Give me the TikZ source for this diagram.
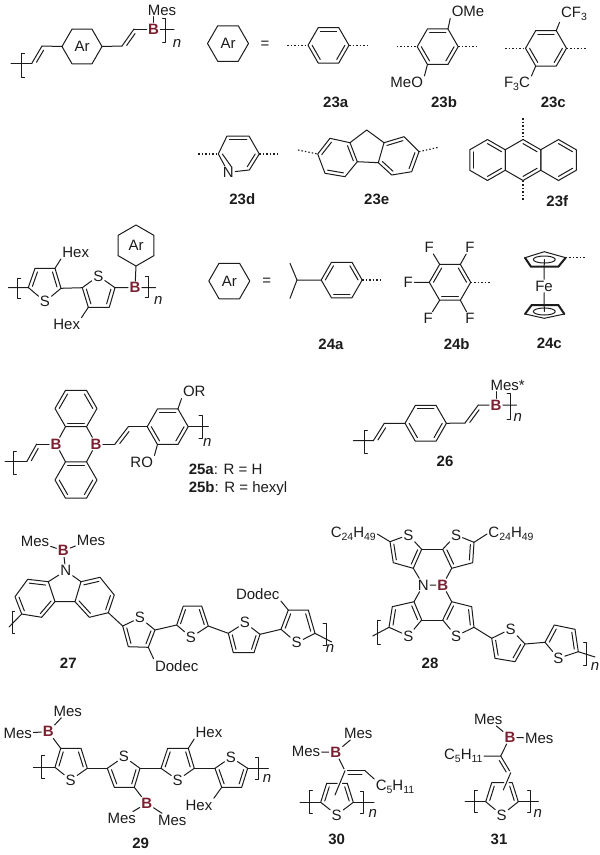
\documentclass[tikz,border=0pt]{standalone}
\usepackage{fontspec}
\setmainfont{Liberation Sans}
\usetikzlibrary{calc}

\definecolor{boronred}{HTML}{7A2030}
\definecolor{inkblack}{HTML}{1C1C1C}
\newcommand{\chemfont}{\fontsize{15}{17}\selectfont}
\newcommand{\sbs}[1]{\raisebox{-3pt}{\fontsize{10.5}{12}\selectfont #1}}

\tikzset{
    atom/.style={inner sep=1pt,font=\chemfont},
    boron/.style={inner sep=1pt,font=\chemfont\bfseries,text=boronred},
    cmpd/.style={inner sep=0pt,font=\chemfont\bfseries},
    rep/.style={inner sep=0pt,font=\chemfont\itshape},
    dotbond/.style={dash pattern=on 1.5pt off 2pt,line cap=butt,line width=1.1pt},
    halo/.style={preaction={draw=white,line width=4pt}}
}

\newcommand{\hexring}[4]{
    \coordinate (#1-c) at (#2);
    \foreach \k in {0,...,5}{\coordinate (#1-\k) at ($(#1-c)+(#4+60*\k:#3)$);}
    \draw (#1-0) -- (#1-1) -- (#1-2) -- (#1-3) -- (#1-4) -- (#1-5) -- cycle;
}
\newcommand{\hexdbl}[2]{
    \foreach \k in {#2}{
        \pgfmathtruncatemacro{\kk}{mod(\k+1,6)}
        \draw ($(#1-\k)!.2!(#1-c)$) -- ($(#1-\kk)!.2!(#1-c)$);
    }
}
\newcommand{\ibond}[4][.2]{\draw ($(#2)!#1!(#4)$) -- ($(#3)!#1!(#4)$);}
\newcommand{\dblbond}[3]{
    \draw (#1) -- (#2);
    \draw ($(#1)!.15!(#2)!3.5pt!#3:(#2)$) -- ($(#2)!.15!(#1)!3.5pt!-#3:(#1)$);
}
\newcommand{\thring}[6]{
    \node[atom] (#1-s) at (#2) {S};
    \coordinate (#1-1) at (#3);
    \coordinate (#1-2) at (#4);
    \coordinate (#1-3) at (#5);
    \coordinate (#1-4) at (#6);
    \coordinate (#1-c) at (barycentric cs:#1-1=1,#1-2=1,#1-3=1,#1-4=1,#1-s=1);
    \draw (#1-s) -- (#1-1) -- (#1-2) -- (#1-3) -- (#1-4) -- (#1-s);
    \ibond[.25]{#1-1}{#1-2}{#1-c}
    \ibond[.25]{#1-3}{#1-4}{#1-c}
}
\newcommand{\brk}[4]{\draw (#1+#4,#2) -- (#1,#2) -- (#1,#3) -- (#1+#4,#3);}

\begin{document}
\begin{tikzpicture}[x=1pt,y=-1pt,line width=1pt,line join=round,line cap=round,color=inkblack]
    \useasboundingbox (0,0) rectangle (600,855);

    % 23
    \coordinate (p23a) at (11,63);
    \coordinate (p23b) at (32,63);
    \coordinate (p23c) at (42,46);
    \hexring{ar1}{82,46.5}{20}{0}
    \node[atom] (ar1t) at (ar1-c) {Ar};
    \coordinate (p23d) at (122,46);
    \coordinate (p23e) at (134,29);
    \node[boron] (b23) at (153.5,29) {B};
    \node[atom] (mes23) at (162,10) {Mes};
    \coordinate (p23f) at (174,29);
    \draw (p23a) -- (p23b);
    \dblbond{p23b}{p23c}{-90}
    \draw (p23c) -- (ar1-3) (ar1-0) -- (p23d);
    \dblbond{p23d}{p23e}{-90}
    \draw (p23e) -- (b23) -- (p23f);
    \draw (b23.north) -- (b23.north |- mes23.south);
    \brk{21.7}{53}{77}{3}
    \brk{165.7}{18}{42}{-3}
    \node[rep] (n23) at (177,43) {n};

    \hexring{ar2}{228,43.5}{20.5}{0}
    \node[atom] (ar2t) at (ar2-c) {Ar};
    \node[atom] (eq1) at (265,44.5) {=};

    \hexring{r23a}{328.5,45.3}{20.5}{0}
    \hexdbl{r23a}{0,2,4}
    \coordinate (d23a) at (287,45.3);
    \coordinate (e23a) at (369,45.3);
    \draw[dotbond] (d23a) -- (r23a-3) (r23a-0) -- (e23a);
    \node[cmpd] (l23a) at (335.7,102.3) {23a};

    \hexring{r23b}{437.7,46.7}{20.5}{0}
    \hexdbl{r23b}{0,2,4}
    \coordinate (d23b) at (396.7,46.7);
    \coordinate (e23b) at (479,46.7);
    \draw[dotbond] (d23b) -- (r23b-3) (r23b-0) -- (e23b);
    \node[atom] (ome) at (468,11.7) {OMe};
    \node[atom] (meo) at (406.7,82.7) {MeO};
    \draw (r23b-5) -- (ome.south west) (r23b-2) -- (meo.north east);
    \node[cmpd] (l23b) at (444,102.3) {23b};

    \hexring{r23c}{546,48.3}{20.5}{0}
    \hexdbl{r23c}{0,2,4}
    \coordinate (d23c) at (505,48.3);
    \coordinate (e23c) at (586.7,48.3);
    \draw[dotbond] (d23c) -- (r23c-3) (r23c-0) -- (e23c);
    \node[atom] (cf) at (574,14) {CF\sbs{3}};
    \node[atom] (fc) at (517,84.3) {F\sbs{3}C};
    \draw (r23c-5) -- (cf.south west) (r23c-2) -- (fc.north east);
    \node[cmpd] (l23c) at (553.3,102.3) {23c};

    \coordinate (py1) at (218.3,154);
    \coordinate (py2) at (227,136);
    \coordinate (py3) at (249,136);
    \coordinate (py4) at (259.3,154);
    \coordinate (py5) at (249.3,170);
    \node[atom] (pyn) at (228.3,172.3) {N};
    \coordinate (pyc) at (238.8,154);
    \draw (pyn) -- (py1) -- (py2) -- (py3) -- (py4) -- (py5) -- (pyn);
    \ibond{py2}{py3}{pyc}
    \ibond{py4}{py5}{pyc}
    \draw ($(py1)!.2!(pyc)$) -- ($(pyn)!.3!(pyc)$);
    \coordinate (d23d) at (198.3,154);
    \coordinate (e23d) at (279.3,154);
    \draw[dotbond] (d23d) -- (py1) (py4) -- (e23d);
    \node[cmpd] (l23d) at (242.3,199.3) {23d};

    \coordinate (fl0) at (366.7,130);
    \coordinate (fl1) at (350,142.7);
    \coordinate (fl2) at (384,142.7);
    \coordinate (fl3) at (357.3,161.7);
    \coordinate (fl4) at (378.3,162.7);
    \coordinate (fl5) at (345,176.7);
    \coordinate (fl6) at (325,173.3);
    \coordinate (fl7) at (317.7,154);
    \coordinate (fl8) at (330,138.3);
    \coordinate (fl9) at (391.7,175);
    \coordinate (fl10) at (411.7,171.7);
    \coordinate (fl11) at (419,151.7);
    \coordinate (fl12) at (404,136.7);
    \coordinate (flc) at (337.5,157.5);
    \coordinate (frc) at (398.5,156.5);
    \draw (fl1) -- (fl0) -- (fl2) (fl3) -- (fl4);
    \draw (fl1) -- (fl3) -- (fl5) -- (fl6) -- (fl7) -- (fl8) -- cycle;
    \draw (fl2) -- (fl4) -- (fl9) -- (fl10) -- (fl11) -- (fl12) -- cycle;
    \ibond{fl1}{fl3}{flc}
    \ibond{fl5}{fl6}{flc}
    \ibond{fl7}{fl8}{flc}
    \ibond{fl2}{fl12}{frc}
    \ibond{fl4}{fl9}{frc}
    \ibond{fl10}{fl11}{frc}
    \coordinate (d23e) at (298,150);
    \coordinate (e23e) at (438.3,147.3);
    \draw[dotbond] (d23e) -- (fl7) (fl11) -- (e23e);
    \node[cmpd] (l23e) at (376.7,199.3) {23e};

    \hexring{an1}{487.5,160}{20.5}{30}
    \hexring{an2}{523,160}{20.5}{30}
    \hexring{an3}{558.5,160}{20.5}{30}
    \hexdbl{an1}{0,2,4}
    \hexdbl{an2}{0,4}
    \hexdbl{an3}{0,4}
    \coordinate (d23f) at (523,118);
    \coordinate (e23f) at (523,200);
    \draw[dotbond] (d23f) -- (an2-4) (an2-1) -- (e23f);
    \node[cmpd] (l23f) at (557.3,200.7) {23f};

    % 24
    \coordinate (p24a) at (8.3,287.5);
    \thring{t24a}{45,301.7}{28.3,287.5}{35,268.3}{55,268.3}{61,288.3}
    \thring{t24b}{98.3,276}{115,287.7}{109.3,307.3}{88.3,307.3}{82.3,287.7}
    \node[atom] (hex24a) at (75.7,252.3) {Hex};
    \node[atom] (hex24b) at (66.7,324.3) {Hex};
    \node[boron] (b24) at (135,287.7) {B};
    \coordinate (p24b) at (155.7,287.7);
    \draw (p24a) -- (t24a-1) (t24a-4) -- (t24b-4) (t24b-1) -- (b24) -- (p24b);
    \draw (t24a-3) -- (hex24a.south west) (t24b-3) -- (hex24b.north east);
    \hexring{ar3}{136,245.5}{20.5}{30}
    \node[atom] (ar3t) at (ar3-c) {Ar};
    \draw (ar3-1) -- (b24);
    \brk{17.7}{278}{298}{3}
    \brk{148.3}{276}{297.7}{-3}
    \node[rep] (n24) at (158.3,300) {n};

    \hexring{ar4}{229.3,281}{20.5}{0}
    \node[atom] (ar4t) at (ar4-c) {Ar};
    \node[atom] (eq2) at (266.7,282) {=};

    \coordinate (ip1) at (290,263.3);
    \coordinate (ip2) at (297,280);
    \coordinate (ip3) at (290,298.3);
    \hexring{r24a}{341.7,280}{20.5}{0}
    \hexdbl{r24a}{1,3,5}
    \coordinate (e24a) at (382.3,280);
    \draw (ip1) -- (ip2) -- (ip3) (ip2) -- (r24a-3);
    \draw[dotbond] (r24a-0) -- (e24a);
    \node[cmpd] (l24a) at (331,344.3) {24a};

    \hexring{r24b}{450,282.3}{20.7}{0}
    \hexdbl{r24b}{1,3,5}
    \coordinate (e24b) at (491,282.3);
    \draw[dotbond] (r24b-0) -- (e24b);
    \node[atom] (f1) at (429.3,247.3) {F};
    \node[atom] (f2) at (470,247.3) {F};
    \node[atom] (f3) at (408.3,282.3) {F};
    \node[atom] (f4) at (428.3,318.3) {F};
    \node[atom] (f5) at (470,318.3) {F};
    \draw (r24b-4) -- (f1) (r24b-5) -- (f2) (r24b-3) -- (f3) (r24b-2) -- (f4) (r24b-1) -- (f5);
    \node[cmpd] (l24b) at (456.7,344.3) {24b};

    \node[atom] (fe) at (544,286) {Fe};
    \coordinate (cpu) at (544.3,259.5);
    \coordinate (cpl) at (544.3,311.5);
    \draw (cpu) -- (fe) (cpl) -- (fe);
    \coordinate (cu1) at (525,257.7);
    \coordinate (cu2) at (544.3,251.7);
    \coordinate (cu3) at (565.7,257.7);
    \coordinate (cu4) at (558.3,266.7);
    \coordinate (cu5) at (531,266.7);
    \draw (cu5) -- (cu1) -- (cu2) -- (cu3) -- (cu4);
    \draw[line width=2pt] (cu1) -- (cu5) -- (cu4) -- (cu3);
    \draw (cpu) ellipse [x radius=11,y radius=3.5];
    \coordinate (e24c) at (585,257.7);
    \draw[dotbond] (cu3) -- (e24c);
    \coordinate (cl1) at (525,314);
    \coordinate (cl2) at (531.7,305);
    \coordinate (cl3) at (558.3,305);
    \coordinate (cl4) at (564.3,314);
    \coordinate (cl5) at (544.3,318.3);
    \draw (cl4) -- (cl5) -- (cl1);
    \draw[line width=2pt] (cl1) -- (cl2) -- (cl3) -- (cl4);
    \draw (cpl) ellipse [x radius=11,y radius=3.5];
    \node[cmpd] (l24c) at (549.3,343.3) {24c};

    % 25
    \coordinate (p25a) at (5,461.7);
    \coordinate (p25b) at (26.7,461.7);
    \coordinate (p25c) at (36.7,444);
    \node[boron] (b25a) at (56,444) {B};
    \node[boron] (b25b) at (96,444) {B};
    \hexring{r25a}{76,408.5}{21}{0}
    \hexring{r25b}{76,480}{21}{0}
    \hexdbl{r25a}{1,3,5}
    \hexdbl{r25b}{0,2,4}
    \draw (p25a) -- (p25b) (p25c) -- (b25a);
    \dblbond{p25b}{p25c}{-90}
    \draw (r25a-2) -- (b25a) -- (r25b-4);
    \draw (r25a-1) -- (b25b) -- (r25b-5);
    \coordinate (p25d) at (115,444);
    \coordinate (p25e) at (128.3,426.7);
    \dblbond{p25d}{p25e}{-90}
    \hexring{r25c}{167.7,426.7}{20.5}{0}
    \hexdbl{r25c}{0,2,4}
    \coordinate (p25f) at (208.3,426.7);
    \draw (b25b) -- (p25d) (p25e) -- (r25c-3) (r25c-0) -- (p25f);
    \node[atom] (or) at (194.3,391.7) {OR};
    \node[atom] (ro) at (141.7,462.3) {RO};
    \draw (r25c-5) -- (or.south west) (r25c-2) -- (ro.north east);
    \brk{13.3}{451.7}{474}{3}
    \brk{202}{415}{438.3}{-3}
    \node[rep] (n25) at (207.3,442.3) {n};
    \node[atom,anchor=west,inner sep=0pt] (l25a) at (188.3,469) {\textbf{25a}: R = H};
    \node[atom,anchor=west,inner sep=0pt] (l25b) at (188.3,488.3) {\textbf{25b}: R = hexyl};

    % 26
    \coordinate (p26a) at (353.3,440.7);
    \coordinate (p26b) at (373.3,440.7);
    \coordinate (p26c) at (384.3,423.3);
    \hexring{r26}{425.7,423.3}{20.7}{0}
    \hexdbl{r26}{0,2,4}
    \coordinate (p26d) at (465,423);
    \coordinate (p26e) at (478.3,405);
    \node[boron] (b26) at (496,405) {B};
    \node[atom] (mes26) at (507.7,385) {Mes*};
    \coordinate (p26f) at (516.7,405);
    \draw (p26a) -- (p26b) (p26c) -- (r26-3) (r26-0) -- (p26d) (p26e) -- (b26) -- (p26f);
    \dblbond{p26b}{p26c}{-90}
    \dblbond{p26d}{p26e}{-90}
    \draw (b26.north) -- (b26.north |- mes26.south);
    \brk{364.3}{430}{453.3}{3}
    \brk{510}{393}{419}{-3}
    \node[rep] (n26) at (517.7,417.7) {n};
    \node[cmpd] (l26) at (445,461) {26};

    % 27
    \node[atom] (mes27a) at (35,541) {Mes};
    \node[atom] (mes27b) at (91,540) {Mes};
    \node[boron] (b27) at (63.3,550.7) {B};
    \node[atom] (n27) at (65.7,570.7) {N};
    \draw (mes27a) -- (b27) -- (mes27b) (b27) -- (n27);
    \coordinate (cl1) at (48.3,581.7);
    \coordinate (cl2) at (27.7,579.3);
    \coordinate (cl3) at (15,596.7);
    \coordinate (cl4) at (21.7,614);
    \coordinate (cl5) at (41.7,617.3);
    \coordinate (cl6) at (55,601.7);
    \coordinate (cr1) at (81,581.7);
    \coordinate (cr2) at (100,577.3);
    \coordinate (cr3) at (114.3,595);
    \coordinate (cr4) at (108.3,612.7);
    \coordinate (cr5) at (89.3,617.3);
    \coordinate (cr6) at (75,601.7);
    \coordinate (clc) at (35,598.5);
    \coordinate (crc) at (95,597.5);
    \draw (cl1) -- (cl2) -- (cl3) -- (cl4) -- (cl5) -- (cl6) -- cycle;
    \draw (cr1) -- (cr2) -- (cr3) -- (cr4) -- (cr5) -- (cr6) -- cycle;
    \draw (cl6) -- (cr6) (cl1) -- (n27) -- (cr1);
    \ibond{cl1}{cl2}{clc}
    \ibond{cl3}{cl4}{clc}
    \ibond{cl5}{cl6}{clc}
    \ibond{cr1}{cr2}{crc}
    \ibond{cr3}{cr4}{crc}
    \ibond{cr5}{cr6}{crc}
    \coordinate (p27a) at (9,627);
    \draw (cl4) -- (p27a);
    \brk{12.7}{611.7}{633}{2}
    \thring{t27a}{140,617.7}{122.7,626}{128.3,646.7}{148.3,647.3}{155,630}
    \thring{t27b}{191,637.3}{176.7,625}{183.3,606}{201.7,606}{208.3,626}
    \thring{t27c}{245,622.7}{228.3,633.3}{233.3,652.7}{254,652.7}{260,634.3}
    \thring{t27d}{296.7,642.7}{281,629.3}{288.3,610}{308.3,610}{315,633.3}
    \draw (cr4) -- (t27a-1) (t27a-4) -- (t27b-1) (t27b-4) -- (t27c-1) (t27c-4) -- (t27d-1);
    \node[atom] (dod27a) at (176.7,665.7) {Dodec};
    \node[atom] (dod27b) at (257.7,594) {Dodec};
    \draw (t27a-3) -- (dod27a.north west) (t27d-2) -- (dod27b.south east);
    \coordinate (p27b) at (331.7,642);
    \draw (t27d-4) -- (p27b);
    \brk{326}{623}{645}{-3}
    \node[rep] (n27r) at (330,648) {n};
    \node[cmpd] (l27) at (68.3,663.3) {27};

    % 28
    \thring{t28a}{408.3,535}{390,541.7}{393.3,562.7}{413.3,568.3}{421.7,549.3}
    \thring{t28b}{456,535}{474,542.3}{472.7,562.7}{451.7,568.3}{442.7,549.3}
    \thring{t28c}{408.3,636}{389,627.3}{392.3,606.7}{414,601.7}{421.7,620}
    \thring{t28d}{456,636}{474,627.3}{471.7,606.7}{451.7,601.7}{442.7,620}
    \node[atom] (c24a) at (353.3,534) {C\sbs{24}H\sbs{49}};
    \node[atom] (c24b) at (511,534) {C\sbs{24}H\sbs{49}};
    \node[atom] (n28) at (423.3,585) {N};
    \node[boron] (b28) at (442.7,585) {B};
    \draw (t28a-4) -- (t28b-4) (t28c-4) -- (t28d-4);
    \draw (c24a.east) -- (t28a-1) (c24b.west) -- (t28b-1);
    \draw (t28a-3) -- (n28) -- (t28c-3) (n28) -- (b28);
    \draw (t28b-3) -- (b28) -- (t28d-3);
    \coordinate (p28a) at (372.7,636);
    \draw (p28a) -- (t28c-1);
    \brk{377.3}{620}{644.3}{3}
    \thring{t28e}{510.7,629}{491.7,638.3}{495,658.3}{515,661.7}{525,644}
    \thring{t28f}{558.3,658.3}{545,642.3}{554.3,625}{575,629.3}{578.3,651.7}
    \coordinate (p28b) at (595,657);
    \draw (t28d-1) -- (t28e-1) (t28e-4) -- (t28f-1) (t28f-4) -- (p28b);
    \brk{586.7}{642.7}{665}{-3}
    \node[rep] (n28r) at (595,666.7) {n};
    \node[cmpd] (l28) at (430,663.3) {28};

    % 29
    \node[atom] (mes29a) at (67.7,711) {Mes};
    \node[atom] (mes29b) at (17.7,733.3) {Mes};
    \node[boron] (b29a) at (48.3,731.7) {B};
    \thring{t29a}{70.7,780}{55,767.3}{60.7,748.3}{81,748.3}{87.3,768.3}
    \thring{t29b}{124,756.7}{140,768.3}{134.3,787.3}{114.3,787.3}{107.3,768.3}
    \thring{t29c}{177.7,780}{161,768.3}{167.7,748.3}{188.3,748.3}{194.3,768.3}
    \thring{t29d}{231,757.3}{247.7,768.3}{241.7,787.3}{221.7,787.3}{215,768.3}
    \node[boron] (b29b) at (146.7,803.3) {B};
    \node[atom] (mes29c) at (121.7,818.3) {Mes};
    \node[atom] (mes29d) at (172.3,820) {Mes};
    \node[atom] (hex29a) at (209,732.3) {Hex};
    \node[atom] (hex29b) at (199,805) {Hex};
    \coordinate (p29a) at (33.3,767.3);
    \coordinate (p29b) at (268.3,768.3);
    \draw (mes29a) -- (b29a) -- (mes29b) (b29a) -- (t29a-2);
    \draw (p29a) -- (t29a-1) (t29a-4) -- (t29b-4) (t29b-1) -- (t29c-1) (t29c-4) -- (t29d-4) (t29d-1) -- (p29b);
    \draw (t29b-2) -- (b29b) (mes29c) -- (b29b) -- (mes29d);
    \draw (t29c-3) -- (hex29a.south west) (t29d-3) -- (hex29b.north east);
    \brk{41.7}{755}{778.3}{3}
    \brk{258.3}{757.3}{779.3}{-3}
    \node[rep] (n29) at (267,778.3) {n};
    \node[cmpd] (l29) at (140.7,843.3) {29};

    % 30
    \thring{t30}{336.7,815}{320.7,802.3}{326.7,783.3}{347.3,783.3}{353.3,802.3}
    \node[atom] (mes30a) at (358.3,733.3) {Mes};
    \node[atom] (mes30b) at (306,751.7) {Mes};
    \node[boron] (b30) at (335.7,752.3) {B};
    \coordinate (v30a) at (345,770.7);
    \coordinate (v30b) at (365,770.7);
    \coordinate (v30c) at (335,795);
    \node[atom] (c5a) at (395,787.3) {C\sbs{5}H\sbs{11}};
    \coordinate (p30a) at (300,802.3);
    \coordinate (p30b) at (374,802.3);
    \draw (mes30a) -- (b30) -- (mes30b) (b30) -- (v30a);
    \dblbond{v30a}{v30b}{-90}
    \draw (v30b) -- (c5a.north west);
    \draw[halo] (v30a) -- (v30c);
    \draw (p30a) -- (t30-1) (t30-4) -- (p30b);
    \brk{309.3}{790}{813.3}{3}
    \brk{363.3}{791.7}{813.3}{-3}
    \node[rep] (n30) at (372.7,813.3) {n};
    \node[cmpd] (l30) at (336.7,839.3) {30};

    % 31
    \thring{t31}{501.7,815}{485.7,801.7}{491.7,782.7}{512.3,782.7}{518.3,801.7}
    \node[atom] (mes31a) at (488.3,719.3) {Mes};
    \node[boron] (b31) at (510,737.3) {B};
    \node[atom] (mes31b) at (539.3,738.3) {Mes};
    \coordinate (v31a) at (500.7,756);
    \coordinate (v31b) at (510.7,772.7);
    \coordinate (v31c) at (503.3,790);
    \node[atom] (c5b) at (463.3,756) {C\sbs{5}H\sbs{11}};
    \coordinate (p31a) at (465,801.7);
    \coordinate (p31b) at (538.3,801.7);
    \draw (mes31a) -- (b31) -- (mes31b) (b31) -- (v31a) (c5b.east) -- (v31a);
    \dblbond{v31a}{v31b}{-90}
    \draw[halo] (v31b) -- (v31c);
    \draw (p31a) -- (t31-1) (t31-4) -- (p31b);
    \brk{474.3}{790}{812.7}{3}
    \brk{530.7}{790}{812.7}{-3}
    \node[rep] (n31) at (537.7,813.3) {n};
    \node[cmpd] (l31) at (499,839.3) {31};
\end{tikzpicture}
\end{document}
